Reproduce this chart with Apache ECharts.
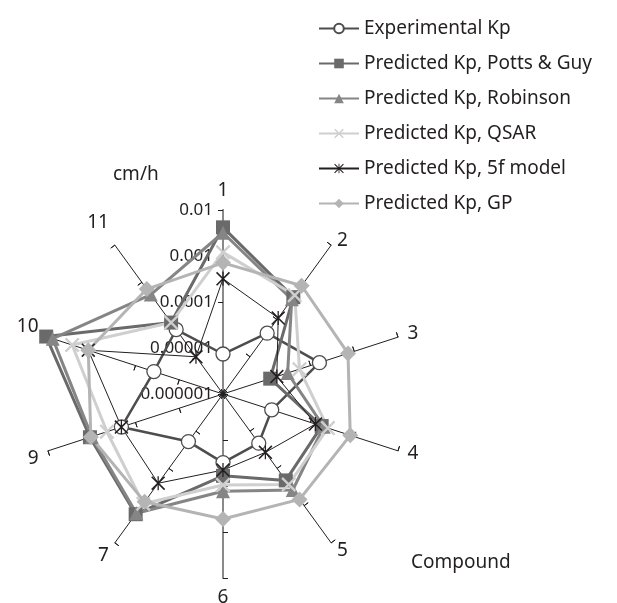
<!DOCTYPE html>
<html><head><meta charset="utf-8">
<script src="https://cdn.jsdelivr.net/npm/echarts@6.0.0/dist/echarts.min.js"></script>
<style>html,body{margin:0;padding:0;background:#fff}#c{width:617px;height:603px}</style>
</head><body><div id="c"></div>
<script>
// Compounds (radar spokes, clockwise from top)
const compounds = ['1','2','3','4','5','6','7','9','10','11'];
// Log-scale tick labels (cm/h)
const tickLabels = ['0.000001','0.00001','0.0001','0.001','0.01'];
// Kp values (cm/h)
const experimental = [7.4e-6, 4.3e-5, 1.6e-4, 1.3e-5, 2.1e-5, 3.1e-5, 1.9e-5, 2.1e-4, 3.8e-5, 5.4e-5];
const pottsGuy     = [4.2e-3, 4.0e-4, 1.2e-5, 1.8e-4, 2.1e-4, 6.0e-5, 1.7e-3, 1.1e-3, 1.1e-2, 8.3e-5];
const robinson     = [3.2e-3, 3.5e-4, 3.0e-5, 2.0e-4, 3.8e-4, 1.3e-4, 1.6e-3, 1.0e-3, 7.8e-3, 4.7e-4];
const qsar         = [1.2e-3, 4.5e-4, 5.6e-5, 2.5e-4, 2.7e-4, 9.5e-5, 8.9e-4, 4.5e-4, 2.8e-3, 8.3e-5];
const fiveF        = [3.2e-4, 1.1e-4, 1.7e-5, 1.3e-4, 3.7e-5, 4.5e-5, 2.5e-4, 2.1e-4, 1.2e-3, 1.0e-5];
const gp           = [7.1e-4, 8.1e-4, 7.2e-4, 8.1e-4, 6.8e-4, 5.2e-4, 7.9e-4, 1.05e-3, 1.2e-3, 6.6e-4];

const FONT = 'Noto Sans';
const TXT = '#231f20';
const logMin = Math.log10(parseFloat(tickLabels[0]));
const logMax = Math.log10(parseFloat(tickLabels[tickLabels.length - 1]));
// ECharts radar places indicators counter-clockwise; reorder to get clockwise layout
const order = [0].concat(compounds.map((_, i) => i).slice(1).reverse());
const toRadar = arr => order.map(i => Math.log10(arr[i]));

const CX = 223, CY = 394, R = 184;
const baseRadar = {
  center: [CX, CY], radius: R, startAngle: 90, splitNumber: tickLabels.length - 1,
  splitLine: {show: false}, splitArea: {show: false}
};
const ind = order.map(i => ({name: compounds[i], min: logMin, max: logMax}));

const X_PATH = 'path://M0,1.1L1.1,0L10,8.9L8.9,10ZM8.9,0L10,1.1L1.1,10L0,8.9Z';
const AST_PATH = 'path://M4.55,0H5.45V10H4.55ZM0,0.8L0.8,0L10,9.2L9.2,10ZM9.2,0L10,0.8L0.8,10L0,9.2Z';

const seriesDefs = [
  {name: 'Experimental Kp', data: experimental, color: '#4d4d4d', width: 2.5, symbol: 'circle', size: 14, fill: '#ffffff', bw: 1.3},
  {name: 'Predicted Kp, Potts & Guy', data: pottsGuy, color: '#6a6a6a', width: 3, symbol: 'rect', size: 14, fill: '#6a6a6a', bw: 0},
  {name: 'Predicted Kp, Robinson', data: robinson, color: '#858585', width: 3, symbol: 'triangle', size: 14, fill: '#858585', bw: 0},
  {name: 'Predicted Kp, QSAR', data: qsar, color: '#cfcfcf', width: 3, symbol: X_PATH, size: 15, fill: '#cfcfcf', bw: 0},
  {name: 'Predicted Kp, 5f model', data: fiveF, color: '#231f20', width: 1, symbol: AST_PATH, size: 14, fill: '#231f20', bw: 0},
  {name: 'Predicted Kp, GP', data: gp, color: '#b4b4b4', width: 3, symbol: 'diamond', size: 16, fill: '#b4b4b4', bw: 0}
];

const series = [];
// legend-only line series (empty data) so legend icons show line + marker
seriesDefs.forEach(d => series.push({
  type: 'line', name: d.name, data: [], symbol: d.symbol, symbolSize: d.size,
  lineStyle: {color: d.color, width: d.width},
  itemStyle: {color: d.fill, borderColor: d.color, borderWidth: d.bw}
}));
seriesDefs.forEach(d => series.push({
  type: 'radar', name: d.name, radarIndex: 0, symbol: d.symbol, symbolSize: d.size,
  z: 3,
  lineStyle: {color: d.color, width: d.width},
  itemStyle: {color: d.fill, borderColor: d.color, borderWidth: d.bw},
  data: [{name: d.name, value: toRadar(d.data)}]
}));

const nameRich = {
  n11: {fontSize: 19, fontFamily: FONT, color: TXT, padding: [0, 0, 28, 0]},
  n10: {fontSize: 19, fontFamily: FONT, color: TXT, padding: [0, 0, 14, 0]},
  n9: {fontSize: 19, fontFamily: FONT, color: TXT, padding: [10, 0, 0, 0]},
  n7: {fontSize: 19, fontFamily: FONT, color: TXT, padding: [10, 0, 0, 0]},
  n2: {fontSize: 19, fontFamily: FONT, color: TXT, padding: [8, 0, 0, 0]}
};

const option = {
  backgroundColor: '#fff',
  animation: false,
  title: [
    {text: 'cm/h', left: 108, top: 160, textStyle: {fontSize: 19, fontWeight: 'normal', fontFamily: FONT, color: TXT}},
    {text: 'Compound', left: 406, top: 548, textStyle: {fontSize: 19, fontWeight: 'normal', fontFamily: FONT, color: TXT}}
  ],
  legend: {
    orient: 'vertical', left: 313, top: 14, itemWidth: 40, itemHeight: 12, itemGap: 16,
    selectedMode: false,
    data: seriesDefs.map(d => d.name),
    textStyle: {fontSize: 19, fontFamily: FONT, color: TXT}
  },
  // value axis aligned with spoke "1" carries the log-scale tick labels
  grid: {left: CX, top: CY - R, width: 1, height: R, show: false},
  xAxis: {type: 'value', show: false},
  yAxis: {
    type: 'value', min: logMin, max: logMax, interval: 1,
    axisLine: {show: false}, axisTick: {show: false}, splitLine: {show: false},
    axisLabel: {show: true, margin: 10, fontSize: 17, fontFamily: FONT, color: TXT,
      formatter: v => tickLabels[Math.round(v - logMin)]}
  },
  radar: [
    Object.assign({}, baseRadar, {
      indicator: ind,
      axisLine: {lineStyle: {color: TXT, width: 1}},
      axisTick: {show: true, length: 5, lineStyle: {color: TXT, width: 1}},
      axisLabel: {show: false},
      axisNameGap: 10,
      axisName: {
        color: TXT, fontSize: 19, fontFamily: FONT,
        formatter: (n) => (nameRich['n' + n] ? '{n' + n + '|' + n + '}' : n),
        rich: nameRich
      }
    }),
    Object.assign({}, baseRadar, {
      indicator: ind.map(d => ({name: '', min: d.min, max: d.max})),
      axisLine: {show: false},
      axisTick: {show: true, inside: true, length: 5, lineStyle: {color: TXT, width: 1}},
      axisLabel: {show: false},
      axisName: {show: false}
    }),
    Object.assign({}, baseRadar, {
      indicator: [{name: '', min: logMin, max: logMax}, {name: '', min: logMin, max: logMax}],
      axisLine: {lineStyle: {color: '#8a8a8a', width: 2}},
      axisTick: {show: false},
      axisLabel: {show: false},
      axisName: {show: false}
    })
  ],
  series: series
};
echarts.init(document.getElementById('c'), null, {renderer: 'canvas'}).setOption(option);
</script></body></html>
